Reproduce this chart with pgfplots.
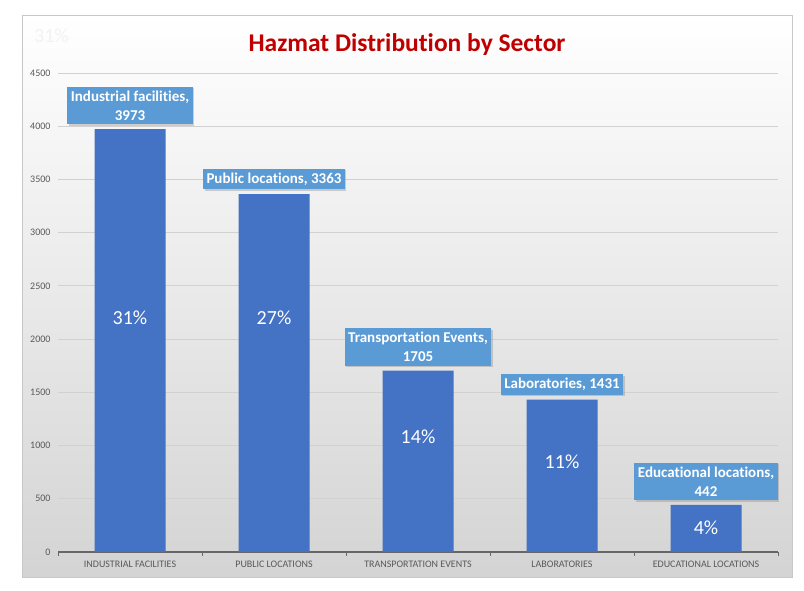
\documentclass[border=0pt]{standalone}
\usepackage{pgfplots}
\pgfplotsset{compat=1.18}
\usepackage{fontspec}
\setmainfont{Carlito}[Ligatures={NoCommon,NoContextual}]
\usetikzlibrary{shadows}
\definecolor{barblue}{HTML}{4472C4}
\definecolor{callout}{HTML}{5B9BD5}
\definecolor{titlered}{HTML}{C00000}
\definecolor{ticktext}{HTML}{595959}
\begin{document}
\begin{tikzpicture}[x=1bp,y=1bp]
\path[fill=white] (0,0) rectangle (804,591);
\shade[top color=white, bottom color=black!17, draw=black!22, line width=0.8bp] (22,14) rectangle (792,576);
\node[font=\bfseries\fontsize{25.5bp}{30bp}\selectfont, text=titlered, anchor=base, inner sep=0] at (407,539) {Hazmat Distribution by Sector};
\node[anchor=base west, text=black!5, font=\fontsize{20bp}{24bp}\selectfont, inner sep=0] at (34,548) {31\%};
\begin{axis}[
  at={(58bp,39bp)}, anchor=south west,
  scale only axis, width=720bp, height=479bp,
  xmin=-0.5, xmax=4.5, ymin=0, ymax=4500,
  ytick={0,500,...,4500},
  xtick={0,...,4},
  xticklabels={INDUSTRIAL FACILITIES, PUBLIC LOCATIONS, TRANSPORTATION EVENTS, LABORATORIES, EDUCATIONAL LOCATIONS},
  minor xtick={-0.5,0.5,...,4.5},
  axis x line*=bottom, axis y line*=left,
  y axis line style={draw=none},
  x axis line style={draw=black!60, line width=1.2bp},
  major tick length=0pt, minor tick length=4bp, tick align=outside,
  minor tick style={draw=black!60, line width=1bp},
  ymajorgrids, major grid style={draw=black!18, line width=0.8bp},
  tick label style={font=\fontsize{10bp}{12bp}\selectfont, text=ticktext},
  yticklabel style={xshift=-4bp},
  xticklabel style={yshift=-5bp},
  /pgf/number format/assume math mode=true,
  /pgf/number format/1000 sep={},
  clip=false,
]
\addplot[ybar, bar width=71bp, fill=barblue, draw=none,
  nodes near coords, point meta=explicit symbolic,
  every node near coord/.style={fill=callout, text=white, align=center,
    font=\bfseries\fontsize{15bp}{19bp}\selectfont,
    inner xsep=3.5bp, inner ysep=4bp, yshift=4.5bp, anchor=south,
    drop shadow={shadow xshift=1.5bp, shadow yshift=-1.5bp, opacity=0.35}}]
coordinates {
(0,3973) [Industrial facilities,\\3973]
(1,3363) [Public locations, 3363]
(2,1705) [Transportation Events,\\1705]
(3,1431) [Laboratories, 1431]
(4,442) [Educational locations,\\442]
};
\addplot[draw=none, mark=none,
  nodes near coords, point meta=explicit symbolic,
  every node near coord/.style={anchor=center, text=white,
    font=\fontsize{20bp}{24bp}\selectfont}]
coordinates {
(0,2198) [31\%]
(1,2198) [27\%]
(2,1080) [14\%]
(3,846) [11\%]
(4,225) [4\%]
};
\end{axis}
\end{tikzpicture}
\end{document}
